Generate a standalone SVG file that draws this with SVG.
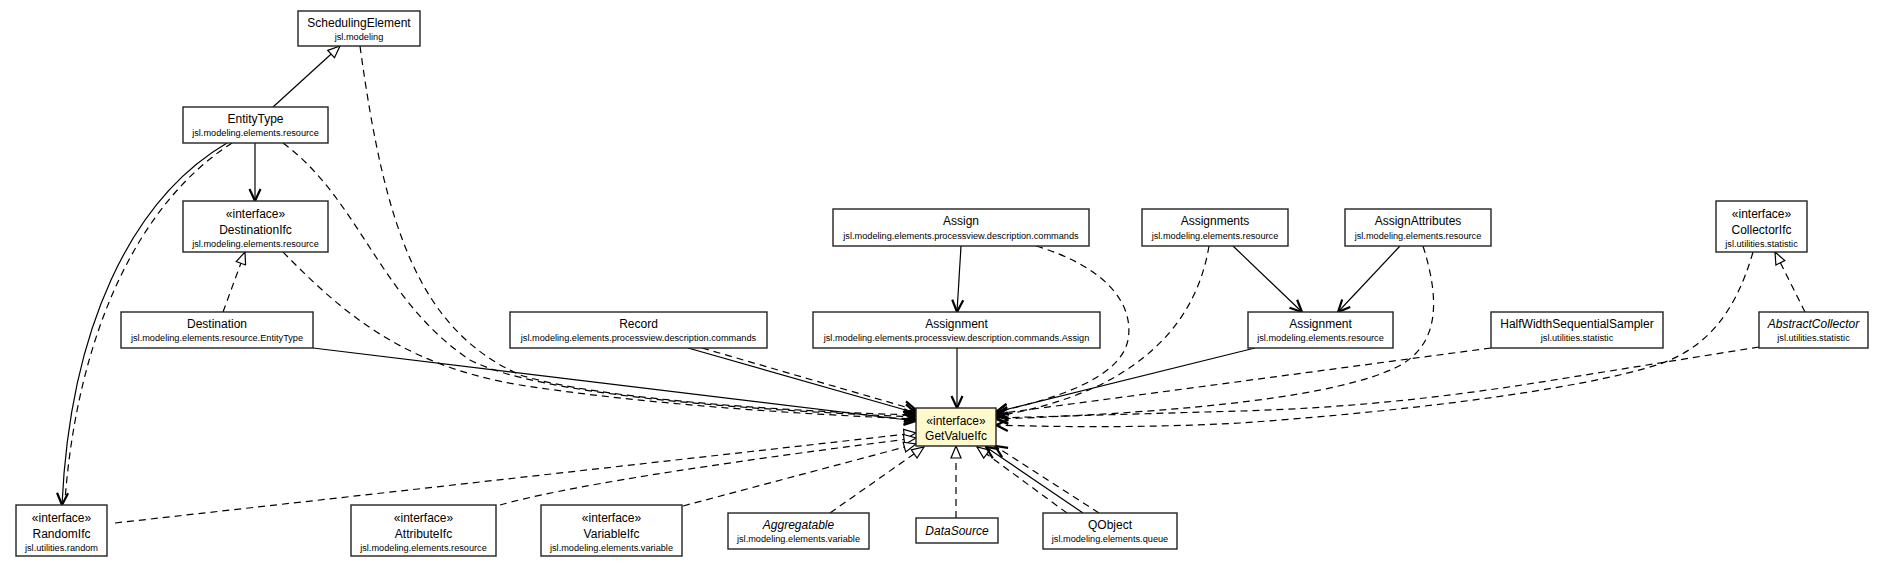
<svg xmlns="http://www.w3.org/2000/svg" width="1884" height="568" viewBox="0 0 1884 568">
<style>
.box{fill:#fff;stroke:#222;stroke-width:1.4}
.ctx{fill:#FFFACD}
text{font-family:"Liberation Sans",Arial,sans-serif;fill:#000;text-anchor:middle}
.t{font-size:12px}
.p{font-size:9.2px}
.i{font-style:italic}
.e{fill:none;stroke:#000;stroke-width:1.2}
.d{stroke-dasharray:7,5}
</style>
<defs>
<marker id="tri" markerUnits="userSpaceOnUse" viewBox="0 0 14 12" refX="13" refY="6" markerWidth="14" markerHeight="12" orient="auto">
<path d="M1,1 L13,6 L1,11 Z" fill="#fff" stroke="#000" stroke-width="1.2"/>
</marker>
<marker id="vee" markerUnits="userSpaceOnUse" viewBox="0 0 14 14" refX="13" refY="7" markerWidth="14" markerHeight="14" orient="auto">
<path d="M1,1.5 L13,7 L1,12.5" fill="none" stroke="#000" stroke-width="2.2" stroke-linejoin="miter"/>
</marker>
</defs>

<g id="connectors">
<path class="e" d="M273,107 L340,46" marker-end="url(#tri)"/>
<path class="e" d="M255,143 L255,201" marker-end="url(#vee)"/>
<path class="e" d="M227,143 C130,200 70,330 62,505" marker-end="url(#vee)"/>
<path class="e d" d="M232,143 C140,202 78,330 65,500"/>
<path class="e d" d="M283,143 C360,200 380,300 470,360 C540,396 750,410 916,417" marker-end="url(#vee)"/>
<path class="e d" d="M360,46 C385,230 420,330 520,375 C600,400 800,412 916,415" marker-end="url(#vee)"/>
<path class="e d" d="M283,252 C340,310 400,365 520,385 C650,405 800,414 916,419" marker-end="url(#vee)"/>
<path class="e d" d="M223,312 L245,252" marker-end="url(#tri)"/>
<path class="e" d="M313,348 L916,421" marker-end="url(#vee)"/>
<path class="e" d="M688,348 L916,413" marker-end="url(#vee)"/>
<path class="e d" d="M702,348 L916,410" marker-end="url(#vee)"/>
<path class="e" d="M961,246 L957,312" marker-end="url(#vee)"/>
<path class="e" d="M957,348 L957,408" marker-end="url(#vee)"/>
<path class="e d" d="M1036,246 C1100,265 1135,300 1128,340 C1120,380 1050,400 996,412" marker-end="url(#vee)"/>
<path class="e d" d="M1209,246 C1200,300 1170,350 1100,385 Q1050,408 996,416" marker-end="url(#vee)"/>
<path class="e" d="M1233,246 L1302,312" marker-end="url(#vee)"/>
<path class="e" d="M1400,246 L1338,312" marker-end="url(#vee)"/>
<path class="e" d="M1255,348 L996,412" marker-end="url(#vee)"/>
<path class="e d" d="M1423,246 C1440,300 1440,345 1397,367 C1340,395 1200,412 996,419" marker-end="url(#vee)"/>
<path class="e d" d="M1491,348 L996,414" marker-end="url(#vee)"/>
<path class="e d" d="M1753,252 C1735,315 1705,348 1660,364 C1580,390 1400,412 1240,423 C1150,428 1050,427 996,425" marker-end="url(#vee)"/>
<path class="e d" d="M1759,347 L1560,379 C1450,397 1350,408 1240,411 L996,418" marker-end="url(#vee)"/>
<path class="e d" d="M1805,312 L1775,252" marker-end="url(#tri)"/>
<path class="e d" d="M115,523 L916,433" marker-end="url(#tri)"/>
<path class="e d" d="M500,505 C560,488 700,465 916,438" marker-end="url(#tri)"/>
<path class="e d" d="M683,506 L916,444" marker-end="url(#tri)"/>
<path class="e d" d="M830,513 L924,447" marker-end="url(#tri)"/>
<path class="e d" d="M956,518 L956,446" marker-end="url(#tri)"/>
<path class="e d" d="M1067,513 L977,447" marker-end="url(#tri)"/>
<path class="e" d="M1083,513 L986,447" marker-end="url(#vee)"/>
<path class="e d" d="M1099,513 L995,446" marker-end="url(#vee)"/>
</g>

<g id="SchedulingElement"><rect class="box" x="298" y="11" width="122" height="35"/><text class="t" x="359" y="27">SchedulingElement</text><text class="p" x="359" y="40">jsl.modeling</text></g>
<g id="EntityType"><rect class="box" x="183" y="107" width="145" height="36"/><text class="t" x="255.5" y="123">EntityType</text><text class="p" x="255.5" y="136">jsl.modeling.elements.resource</text></g>
<g id="DestinationIfc"><rect class="box" x="183" y="201" width="145" height="51"/><text class="t" x="255.5" y="218">«interface»</text><text class="t" x="255.5" y="234">DestinationIfc</text><text class="p" x="255.5" y="247">jsl.modeling.elements.resource</text></g>
<g id="Destination"><rect class="box" x="121" y="312" width="192" height="36"/><text class="t" x="217" y="328">Destination</text><text class="p" x="217" y="341">jsl.modeling.elements.resource.EntityType</text></g>
<g id="RandomIfc"><rect class="box" x="16" y="505" width="91" height="51"/><text class="t" x="61.5" y="522">«interface»</text><text class="t" x="61.5" y="538">RandomIfc</text><text class="p" x="61.5" y="551">jsl.utilities.random</text></g>
<g id="Record"><rect class="box" x="510" y="312" width="257" height="36"/><text class="t" x="638.5" y="328">Record</text><text class="p" x="638.5" y="341">jsl.modeling.elements.processview.description.commands</text></g>
<g id="Assign"><rect class="box" x="833" y="209" width="256" height="37"/><text class="t" x="961" y="225">Assign</text><text class="p" x="961" y="239">jsl.modeling.elements.processview.description.commands</text></g>
<g id="AssignmentCmd"><rect class="box" x="813" y="312" width="287" height="36"/><text class="t" x="956.5" y="328">Assignment</text><text class="p" x="956.5" y="341">jsl.modeling.elements.processview.description.commands.Assign</text></g>
<g id="GetValueIfc"><rect class="box ctx" x="916" y="408" width="80" height="38"/><text class="t" x="956" y="425">«interface»</text><text class="t" x="956" y="440">GetValueIfc</text></g>
<g id="Assignments"><rect class="box" x="1142" y="209" width="146" height="37"/><text class="t" x="1215" y="225">Assignments</text><text class="p" x="1215" y="239">jsl.modeling.elements.resource</text></g>
<g id="AssignAttributes"><rect class="box" x="1345" y="209" width="146" height="37"/><text class="t" x="1418" y="225">AssignAttributes</text><text class="p" x="1418" y="239">jsl.modeling.elements.resource</text></g>
<g id="AssignmentRes"><rect class="box" x="1248" y="312" width="145" height="36"/><text class="t" x="1320.5" y="328">Assignment</text><text class="p" x="1320.5" y="341">jsl.modeling.elements.resource</text></g>
<g id="HalfWidthSequentialSampler"><rect class="box" x="1491" y="312" width="172" height="36"/><text class="t" x="1577" y="328">HalfWidthSequentialSampler</text><text class="p" x="1577" y="341">jsl.utilities.statistic</text></g>
<g id="CollectorIfc"><rect class="box" x="1716" y="201" width="91" height="51"/><text class="t" x="1761.5" y="218">«interface»</text><text class="t" x="1761.5" y="234">CollectorIfc</text><text class="p" x="1761.5" y="247">jsl.utilities.statistic</text></g>
<g id="AbstractCollector"><rect class="box" x="1759" y="312" width="109" height="36"/><text class="t i" x="1813.5" y="328">AbstractCollector</text><text class="p" x="1813.5" y="341">jsl.utilities.statistic</text></g>
<g id="AttributeIfc"><rect class="box" x="351" y="505" width="145" height="51"/><text class="t" x="423.5" y="522">«interface»</text><text class="t" x="423.5" y="538">AttributeIfc</text><text class="p" x="423.5" y="551">jsl.modeling.elements.resource</text></g>
<g id="VariableIfc"><rect class="box" x="541" y="505" width="141" height="51"/><text class="t" x="611.5" y="522">«interface»</text><text class="t" x="611.5" y="538">VariableIfc</text><text class="p" x="611.5" y="551">jsl.modeling.elements.variable</text></g>
<g id="Aggregatable"><rect class="box" x="728" y="513" width="141" height="36"/><text class="t i" x="798.5" y="529">Aggregatable</text><text class="p" x="798.5" y="542">jsl.modeling.elements.variable</text></g>
<g id="DataSource"><rect class="box" x="916" y="518" width="82" height="25"/><text class="t i" x="957" y="535">DataSource</text></g>
<g id="QObject"><rect class="box" x="1043" y="513" width="134" height="36"/><text class="t" x="1110" y="529">QObject</text><text class="p" x="1110" y="542">jsl.modeling.elements.queue</text></g>
</svg>
